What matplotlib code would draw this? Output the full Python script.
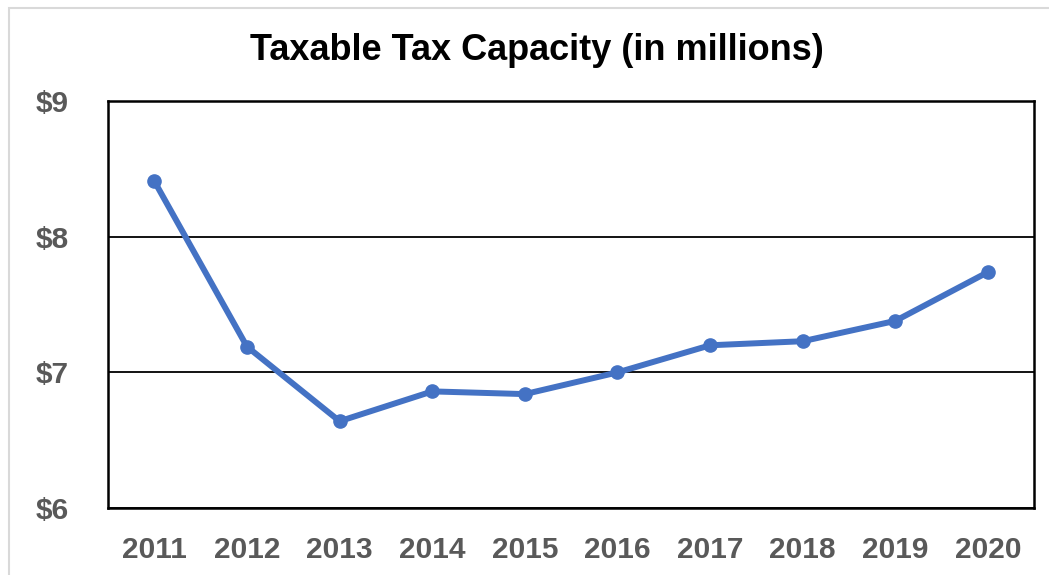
import matplotlib.pyplot as plt
from matplotlib.patches import Rectangle

# data
years = ["2011", "2012", "2013", "2014", "2015", "2016", "2017", "2018", "2019", "2020"]
capacity = [8.41, 7.19, 6.64, 6.86, 6.84, 7.00, 7.20, 7.23, 7.38, 7.74]
y_ticks = [6, 7, 8, 9]
y_labels = ["$6", "$7", "$8", "$9"]

plt.rcParams['font.family'] = ['Liberation Sans', 'DejaVu Sans']

fig = plt.figure(figsize=(10.49, 5.75), dpi=100)
ax = fig.add_axes([0.103, 0.1165, 0.883, 0.7075])

# light grey frame round the whole chart
fig.patches.append(Rectangle((9 / 1049, -0.1), 1.2, 1 - 8 / 575 + 0.1,
                             transform=fig.transFigure, fill=False,
                             edgecolor="#d9d9d9", linewidth=1.5))

x = range(len(years))
ax.plot(x, capacity, color="#4472C4", linewidth=4.3, marker="o", markersize=9.5)

ax.set_xlim(-0.5, len(years) - 0.5)
ax.set_ylim(6, 9)
ax.set_xticks(list(x))
ax.set_xticklabels(years)
ax.set_yticks(y_ticks)
ax.set_yticklabels(y_labels)
ax.tick_params(length=0, labelsize=21.5, labelcolor="#595959")
ax.tick_params(axis="x", pad=20)
for lab in ax.get_xticklabels() + ax.get_yticklabels():
    lab.set_fontweight("bold")
for lab in ax.get_yticklabels():
    lab.set_horizontalalignment("left")
ax.tick_params(axis="y", pad=52)

ax.grid(axis="y", color="black", linewidth=1.3)
for s in ax.spines.values():
    s.set_color("black")
    s.set_linewidth(1.8)

fig.text(0.512, 0.913, "Taxable Tax Capacity (in millions)", ha="center", va="center",
         fontsize=26, fontweight="bold", color="black")

fig.savefig("out.png", dpi=100)
